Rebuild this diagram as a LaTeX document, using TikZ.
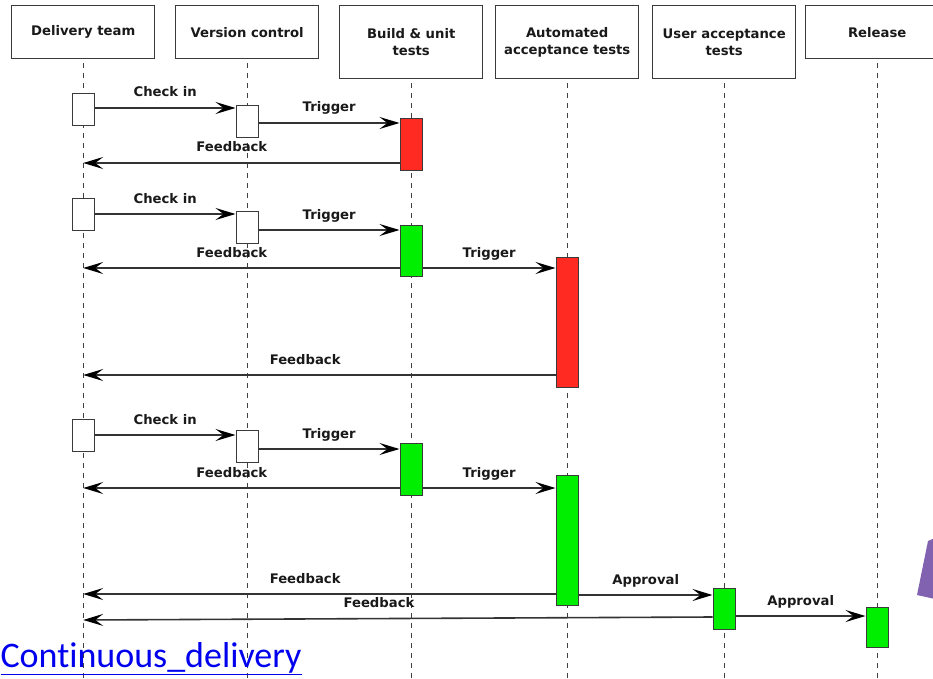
\documentclass[tikz,border=0pt]{standalone}
\usepackage{fontspec}
\setmainfont{DejaVu Sans}
\newfontfamily\linkfont[Ligatures=NoCommon]{Carlito}
\usetikzlibrary{arrows.meta}
\definecolor{failRed}{HTML}{FF2A22}
\definecolor{passGreen}{HTML}{00EE00}
\definecolor{lineGray}{HTML}{3A3A3A}
\definecolor{linkBlue}{HTML}{0000EE}
\definecolor{slidePurple}{HTML}{8062B0}

\begin{document}
\begin{tikzpicture}[x=1pt, y=-1pt,
    every node/.style={font=\fontsize{13.2}{17}\selectfont\bfseries, text=black!90},
    head/.style={draw=lineGray, line width=1.4, minimum width=143, minimum height=#1,
        anchor=north west, align=center, inner sep=0},
    life/.style={black!75, line width=1.4, dash pattern=on 5pt off 5pt},
    act/.style={draw=lineGray, line width=1.4, minimum width=22, minimum height=#1,
        anchor=north, inner sep=0},
    msg/.style={black!80, line width=1.6, -{Stealth[length=20pt, width=12pt, inset=8pt, black]}},
    lbl/.style={anchor=base, yshift=11}]
    \clip (0,0) rectangle (933,679);
    \useasboundingbox (0,0) rectangle (933,679);

    % lanes
    \node[head=53] (team) at (11,5) {Delivery team};
    \node[head=53] (vcs) at (175,5) {Version control};
    \node[head=73] (build) at (339,5) {Build \& unit\\tests};
    \node[head=73] (accept) at (495,5) {Automated\\acceptance tests};
    \node[head=73] (uat) at (652,5) {User acceptance\\tests};
    \node[head=53] (rel) at (805,5) {Release};

    \foreach \lane in {team,vcs,build,accept,uat,rel}
        \draw[life] ([yshift=-4]\lane.south) -- (\lane.south |- 0,679);

    % first run: build fails
    \node[act=32, fill=white] (teamA) at (team |- 0,93) {};
    \node[act=32, fill=white] (vcsA) at (vcs |- 0,105) {};
    \node[act=52, fill=failRed] (buildA) at (build |- 0,118) {};

    \draw[msg] (teamA.east |- 0,108) -- node[lbl]{Check in} (vcsA.west |- 0,108);
    \draw[msg] (vcsA.east |- 0,123) -- node[lbl]{Trigger} (buildA.west |- 0,123);
    \draw[msg] (buildA.west |- 0,163) -- node[lbl, pos=0.53]{Feedback} (team |- 0,163);

    % second run: acceptance fails
    \node[act=32, fill=white] (teamB) at (team |- 0,198) {};
    \node[act=32, fill=white] (vcsB) at (vcs |- 0,211) {};
    \node[act=51, fill=passGreen] (buildB) at (build |- 0,225) {};
    \node[act=130, fill=failRed] (acceptB) at (accept |- 0,257) {};

    \draw[msg] (teamB.east |- 0,214) -- node[lbl]{Check in} (vcsB.west |- 0,214);
    \draw[msg] (vcsB.east |- 0,230) -- node[lbl]{Trigger} (buildB.west |- 0,230);
    \draw[msg] (buildB.west |- 0,268) -- node[lbl, pos=0.53]{Feedback} (team |- 0,268);
    \draw[msg] (buildB.east |- 0,268) -- node[lbl]{Trigger} (acceptB.west |- 0,268);
    \draw[msg] (acceptB.west |- 0,375) -- node[lbl, pos=0.53]{Feedback} (team |- 0,375);

    % third run: all the way to release
    \node[act=32, fill=white] (teamC) at (team |- 0,419) {};
    \node[act=32, fill=white] (vcsC) at (vcs |- 0,430) {};
    \node[act=52, fill=passGreen] (buildC) at (build |- 0,443) {};
    \node[act=130, fill=passGreen] (acceptC) at (accept |- 0,475) {};
    \node[act=41, fill=passGreen] (uatC) at (uat |- 0,588) {};
    \node[act=40, fill=passGreen] (relC) at (rel |- 0,607) {};

    \draw[msg] (teamC.east |- 0,435) -- node[lbl]{Check in} (vcsC.west |- 0,435);
    \draw[msg] (vcsC.east |- 0,449) -- node[lbl]{Trigger} (buildC.west |- 0,449);
    \draw[msg] (buildC.west |- 0,488) -- node[lbl, pos=0.53]{Feedback} (team |- 0,488);
    \draw[msg] (buildC.east |- 0,488) -- node[lbl]{Trigger} (acceptC.west |- 0,488);
    \draw[msg] (acceptC.west |- 0,594) -- node[lbl, pos=0.53]{Feedback} (team |- 0,594);
    \draw[msg] (acceptC.east |- 0,595) -- node[lbl]{Approval} (uatC.west |- 0,595);
    \draw[msg] (uatC.west |- 0,617) -- node[lbl, pos=0.53]{Feedback} (team |- 0,620);
    \draw[msg] (uatC.east |- 0,616) -- node[lbl]{Approval} (relC.west |- 0,616);

    % slide bits
    \node[anchor=base west, text=linkBlue, font=\linkfont\fontsize{36}{36}\selectfont] (link)
        at (-3,667) {\underline{Continuous\_delivery}};
    \fill[slidePurple] (928,541) -- (917,595) -- (935,599) -- (935,538) -- cycle;
\end{tikzpicture}
\end{document}
